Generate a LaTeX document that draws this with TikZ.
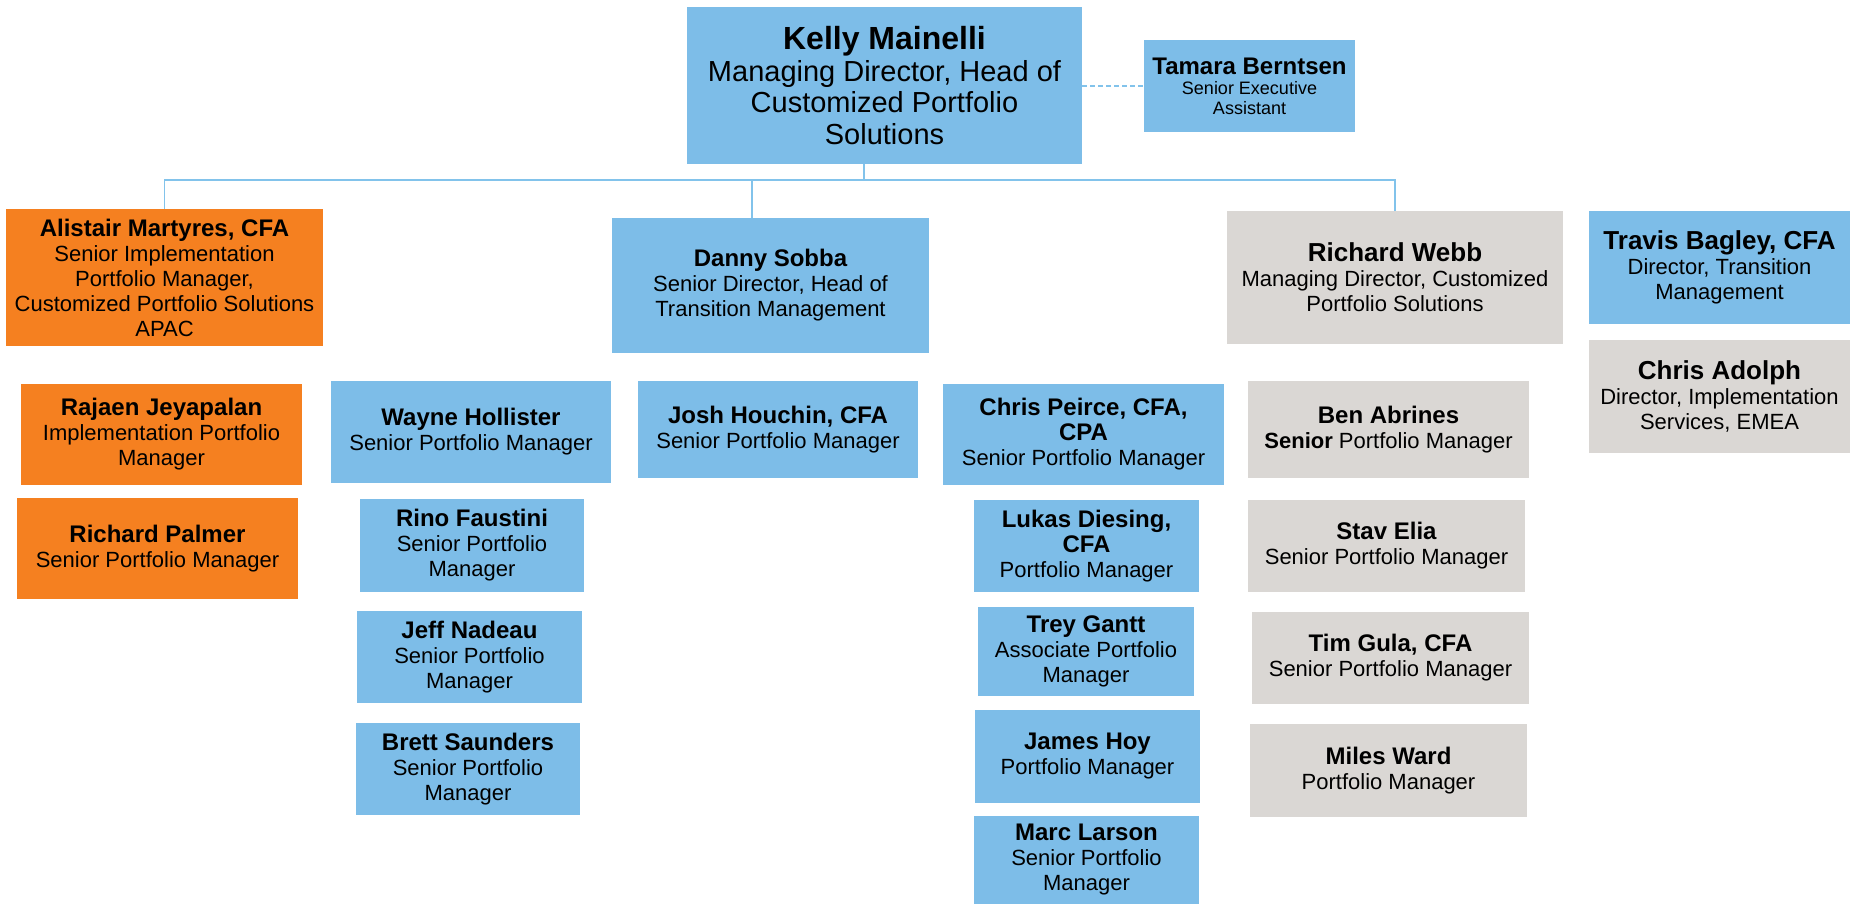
\documentclass[tikz,border=0pt]{standalone}
\usepackage{fontspec}
\setmainfont{Liberation Sans}
\definecolor{cblue}{RGB}{125,189,232}
\definecolor{corange}{RGB}{245,128,32}
\definecolor{cgray}{RGB}{218,215,212}
\definecolor{cline}{RGB}{130,195,235}
\newcommand{\pname}[1]{{\fontsize{24}{27}\selectfont\bfseries #1}}
\newcommand{\pnamebig}[1]{{\fontsize{26}{29}\selectfont\bfseries #1}}
\newcommand{\pbox}[7]{\node[#1, minimum width={(#5-#3)*1pt}, minimum height={(#6-#4)*1pt}] (#2) at ({(#3+#5)/2},{(#4+#6)/2}) {#7};}
\tikzset{
  card/.style={inner sep=0pt, outer sep=0pt, align=center, text=black, font=\fontsize{22}{25}\selectfont},
  bluecard/.style={card, fill=cblue},
  orangecard/.style={card, fill=corange},
  graycard/.style={card, fill=cgray},
  conn/.style={draw=cline, line width=1.5pt},
}
\begin{document}
\begin{tikzpicture}[x=1pt,y=-1pt]
\useasboundingbox (0,0) rectangle (1850,904);
% top
\pbox{bluecard, font=\fontsize{29}{31.5}\selectfont}{kelly}{687}{7}{1082}{164}{{\fontsize{32}{35}\selectfont\bfseries Kelly Mainelli}\\Managing Director, Head of\\Customized Portfolio\\Solutions}
\pbox{bluecard, font=\fontsize{18}{20}\selectfont}{tamara}{1144}{40}{1355}{132}{\pname{Tamara Berntsen}\\Senior Executive\\Assistant}
% second level
\pbox{orangecard}{alistair}{6}{209}{323}{346}{\pname{Alistair Martyres, CFA}\\Senior Implementation\\Portfolio Manager,\\Customized Portfolio Solutions\\APAC}
\pbox{bluecard}{danny}{612}{218}{929}{353}{\pname{Danny Sobba}\\Senior Director, Head of\\Transition Management}
\pbox{graycard}{rwebb}{1227}{211}{1563}{344}{\pnamebig{Richard Webb}\\Managing Director, Customized\\Portfolio Solutions}
\pbox{bluecard}{travis}{1589}{211}{1850}{324}{\pnamebig{Travis Bagley, CFA}\\Director, Transition\\Management}
\pbox{graycard}{adolph}{1589}{340}{1850}{453}{\pnamebig{Chris Adolph}\\Director, Implementation\\Services, EMEA}
% orange column
\pbox{orangecard}{rajaen}{21}{384}{302}{485}{\pname{Rajaen Jeyapalan}\\Implementation Portfolio\\Manager}
\pbox{orangecard}{rpalmer}{17}{498}{298}{599}{\pname{Richard Palmer}\\Senior Portfolio Manager}
% blue columns
\pbox{bluecard}{wayne}{331}{381}{611}{483}{\pname{Wayne Hollister}\\Senior Portfolio Manager}
\pbox{bluecard}{rino}{360}{499}{584}{592}{\pname{Rino Faustini}\\Senior Portfolio\\Manager}
\pbox{bluecard}{jeff}{357}{611}{582}{703}{\pname{Jeff Nadeau}\\Senior Portfolio\\Manager}
\pbox{bluecard}{brett}{356}{723}{580}{815}{\pname{Brett Saunders}\\Senior Portfolio\\Manager}
\pbox{bluecard}{josh}{638}{381}{918}{478}{\pname{Josh Houchin, CFA}\\Senior Portfolio Manager}
\pbox{bluecard}{peirce}{943}{384}{1224}{485}{\pname{Chris Peirce, CFA,}\\\pname{CPA}\\Senior Portfolio Manager}
\pbox{bluecard}{lukas}{974}{500}{1199}{592}{\pname{Lukas Diesing,}\\\pname{CFA}\\Portfolio Manager}
\pbox{bluecard}{trey}{978}{607}{1194}{696}{\pname{Trey Gantt}\\Associate Portfolio\\Manager}
\pbox{bluecard}{james}{975}{710}{1200}{803}{\pname{James Hoy}\\Portfolio Manager}
\pbox{bluecard}{marc}{974}{816}{1199}{904}{\pname{Marc Larson}\\Senior Portfolio\\Manager}
% gray column
\pbox{graycard}{ben}{1248}{381}{1529}{478}{\pname{Ben Abrines}\\\textbf{Senior} Portfolio Manager}
\pbox{graycard}{stav}{1248}{500}{1525}{592}{\pname{Stav Elia}\\Senior Portfolio Manager}
\pbox{graycard}{tim}{1252}{612}{1529}{704}{\pname{Tim Gula, CFA}\\Senior Portfolio Manager}
\pbox{graycard}{miles}{1250}{724}{1527}{817}{\pname{Miles Ward}\\Portfolio Manager}
% connectors
\draw[conn] ([xshift=-20.5pt]kelly.south) -- ++(0,16);
\draw[conn] (alistair.north) -- ++(0,-29) -| (rwebb.north);
\draw[conn] ([xshift=-18.5pt]danny.north) -- ++(0,-38);
\draw[conn, dash pattern=on 5pt off 3pt] (tamara.west -| kelly.east) -- (tamara.west);
\end{tikzpicture}
\end{document}
